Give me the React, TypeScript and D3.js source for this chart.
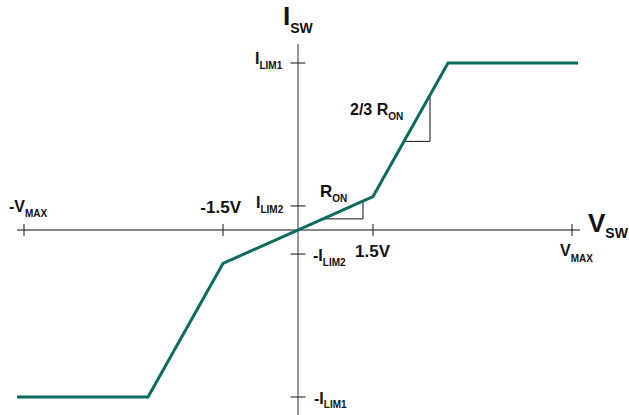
import React from 'react';
import * as d3 from 'd3';

// switch voltage (V) and switch current (arbitrary units, I_LIM1 = 5)
const curveV = [-5.62, -3.0, -1.5, 1.5, 3.0, 5.6];
const curveI = [-5, -5, -1, 1, 5, 5];

const vMax = 5.48;
const iLim1 = 5;
const iLim2 = 0.72;

const xTicks = [-vMax, -1.5, 1.5, vMax];
const yTicks = [-iLim1, -iLim2, iLim2, iLim1];

// slope triangles: [v start, v end] on inner (R_ON) and outer (2/3 R_ON) segments
const ronTri = [0.5, 1.3];
const ron23Tri = [2.12, 2.64];

const width = 629;
const height = 415;
const teal = '#0b6b5e';
const font = '"Liberation Sans", Arial, Helvetica, sans-serif';

function currentAt(v: number) {
  return d3.scaleLinear().domain(curveV).range(curveI)(v);
}

function Label({ x, y, main, sub, size = 16, subSize = 10, dy = 5 }:
  { x: number; y: number; main: string; sub?: string; size?: number; subSize?: number; dy?: number }) {
  return (
    <text x={x} y={y} fontFamily={font} fontWeight="bold" fontSize={size} fill="#111">
      {main}
      {sub && <tspan fontSize={subSize} dy={dy}>{sub}</tspan>}
    </text>
  );
}

export default function App() {
  const x = d3.scaleLinear().domain([-6, 6]).range([-2, 598]);
  const y = d3.scaleLinear().domain([-5, 5]).range([397, 63]);

  const line = d3.line<number>()
    .x((_, i) => x(curveV[i]))
    .y(d => y(d));

  const tri = (vs: number[]) => {
    const [a, b] = vs;
    return `M${x(a)},${y(currentAt(a))} H${x(b)} V${y(currentAt(b))}`;
  };

  const x0 = x(0);
  const y0 = y(0);

  return (
    <svg width={width} height={height} style={{ position: 'absolute', left: 0, top: 0, background: '#fff' }}>
      {/* axes */}
      <line x1={x(-5.62)} x2={x(5.64)} y1={y0} y2={y0} stroke="#111" strokeWidth={1.2} />
      <line x1={x0} x2={x0} y1={y(5.57)} y2={height} stroke="#777" strokeWidth={1.5} />

      {xTicks.map(t => (
        <line key={'xt' + t} x1={x(t)} x2={x(t)} y1={y0 - 6} y2={y0 + 6} stroke="#111" strokeWidth={1} />
      ))}
      {yTicks.map(t => (
        <line key={'yt' + t} x1={x0 - 7.5} x2={x0 + 7.5} y1={y(t)} y2={y(t)} stroke="#111" strokeWidth={1} />
      ))}

      {/* slope triangles */}
      <path d={tri(ronTri)} fill="none" stroke="#111" strokeWidth={1} />
      <path d={tri(ron23Tri)} fill="none" stroke="#111" strokeWidth={1} />

      {/* I-V curve */}
      <path d={line(curveI) ?? ''} fill="none" stroke={teal} strokeWidth={3} strokeLinejoin="miter" />

      {/* axis titles */}
      <Label x={x0 - 15} y={25} main="I" sub="SW" size={26} subSize={14} dy={8} />
      <Label x={588} y={y0 + 2} main="V" sub="SW" size={26} subSize={14} dy={6} />

      {/* tick labels */}
      <Label x={x0 - 43} y={y(iLim1) + 1} main="I" sub="LIM1" />
      <Label x={x0 - 42} y={y(iLim2) + 2} main="I" sub="LIM2" />
      <Label x={x0 + 15} y={y(-iLim2) + 7} main="-I" sub="LIM2" />
      <Label x={x0 + 16} y={y(-iLim1) + 7} main="-I" sub="LIM1" dy={4} />
      <Label x={x(-vMax) - 15} y={y0 - 18} main="-V" sub="MAX" />
      <Label x={x(vMax) - 12} y={y0 + 26} main="V" sub="MAX" dy={6} />
      <text x={x(-1.5) + 18} y={y0 - 17} textAnchor="end" fontFamily={font} fontWeight="bold" fontSize={17} fill="#111">-1.5V</text>
      <text x={x(1.5) + 17} y={y0 + 27} textAnchor="end" fontFamily={font} fontWeight="bold" fontSize={17} fill="#111">1.5V</text>

      {/* slope labels */}
      <Label x={320} y={197} main="R" sub="ON" size={17} />
      <Label x={350} y={115} main="2/3 R" sub="ON" />
    </svg>
  );
}
